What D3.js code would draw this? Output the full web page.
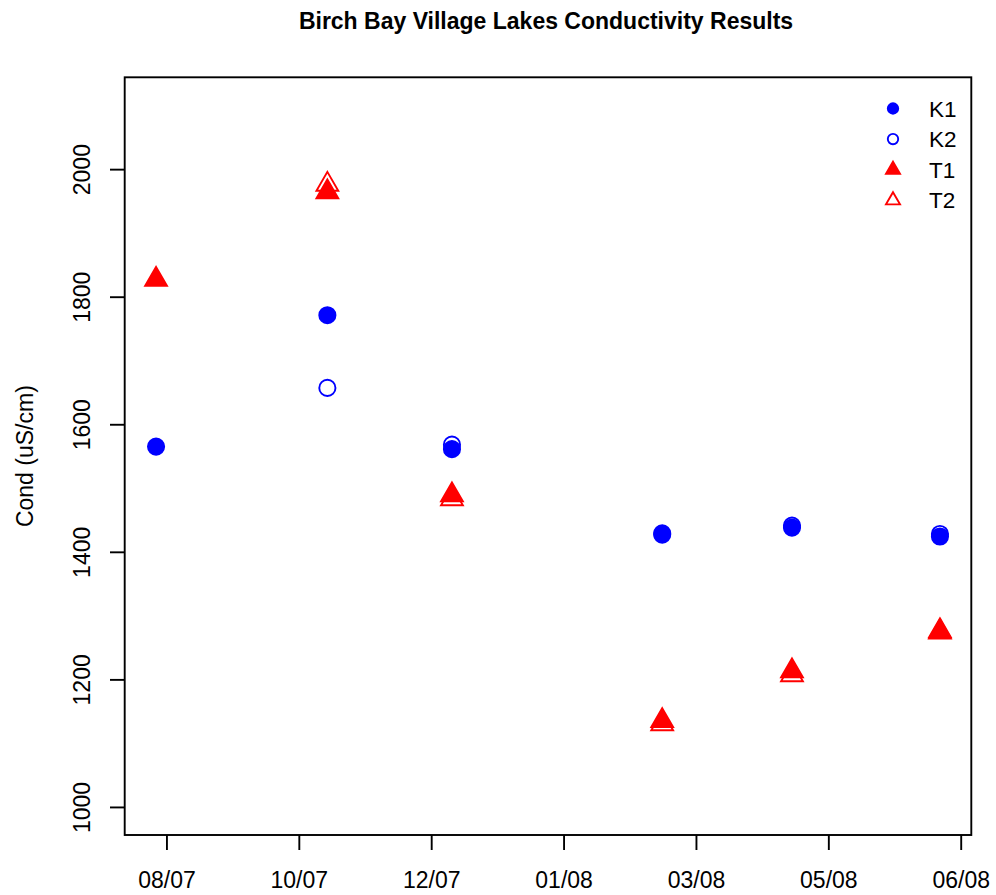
<!DOCTYPE html>
<html><head><meta charset="utf-8">
<script src="https://cdn.jsdelivr.net/npm/d3@7"></script>
<style>body{margin:0;background:#fff}</style>
</head><body>
<svg id="chart" width="996" height="895"></svg>
<script>
// ---- data ----
const sampleDates = ["2007-08-20","2007-10-25","2007-12-12","2008-03-02","2008-04-21","2008-06-17"];
const k1 = [1565, 1771, 1561, 1427, 1438, 1424];
const k2 = [null, 1657, 1568, 1429, 1441, 1428];
const t1 = [1827, 1964, 1489, 1135, 1213, 1276];
const t2 = [null, 1976, 1483, 1130, 1207, 1274];
const seriesNames = ["K1", "K2", "T1", "T2"];
const xTickDates = ["2007-08-24","2007-10-14","2007-12-04","2008-01-24","2008-03-15","2008-05-05","2008-06-25"];
const yTicks = [1000, 1200, 1400, 1600, 1800, 2000];
const yLimits = [1000, 2100];
const titleText = "Birch Bay Village Lakes Conductivity Results";
const yLabelText = "Cond (uS/cm)";

// ---- styles ----
const FONT = "'Liberation Sans', Arial, Helvetica, sans-serif";
const BLUE = "#0000ff", RED = "#ff0000";
const LW = 1.9;
const PLOT_RAD = 8.1, LEGEND_RAD = 5.2;
const styles = [
  {shape: "circle", filled: true, color: BLUE},
  {shape: "circle", filled: false, color: BLUE},
  {shape: "triangle", filled: true, color: RED},
  {shape: "triangle", filled: false, color: RED}
];
const seriesValues = [k1, k2, t1, t2];

const svg = d3.select("#chart");
const L = 124.7, R = 971.3, T = 77.3, B = 835;

const parse = d3.utcParse("%Y-%m-%d");
const dates = sampleDates.map(parse);
const d0 = dates[0], d1 = dates[dates.length - 1];
const ext = (d1 - d0) * 0.04;
const x = d3.scaleUtc().domain([new Date(+d0 - ext), new Date(+d1 + ext)]).range([L, R]);
const yExt = (yLimits[1] - yLimits[0]) * 0.04;
const y = d3.scaleLinear().domain([yLimits[0] - yExt, yLimits[1] + yExt]).range([B, T]);

function triPath(rad) {
  const r = 1.5551 * rad, hw = 1.3468 * rad;
  return `M0,${-r}L${hw},${r/2}L${-hw},${r/2}Z`;
}
function drawMark(g, st, cx, cy, rad) {
  let el;
  if (st.shape === "circle") {
    el = g.append("circle").attr("cx", cx).attr("cy", cy).attr("r", rad);
  } else {
    el = g.append("path").attr("d", triPath(rad)).attr("transform", `translate(${cx},${cy})`);
  }
  el.attr("fill", st.filled ? st.color : "none")
    .attr("stroke", st.color).attr("stroke-width", LW);
}

// marks
const marks = svg.append("g");
seriesValues.forEach((vals, si) => {
  vals.forEach((v, i) => {
    if (v == null) return;
    drawMark(marks, styles[si], x(dates[i]), y(v), PLOT_RAD);
  });
});

// box
svg.append("rect").attr("x", L).attr("y", T).attr("width", R - L).attr("height", B - T)
  .attr("fill", "none").attr("stroke", "#000").attr("stroke-width", LW);

// x axis
const xa = svg.append("g").attr("transform", `translate(0,${B})`)
  .call(d3.axisBottom(x).tickValues(xTickDates.map(parse)).tickFormat(d3.utcFormat("%m/%y")).tickSize(15));
xa.select(".domain").remove();
xa.selectAll("line").attr("stroke", "#000").attr("stroke-width", LW);
xa.selectAll("text").attr("y", 52.7).attr("dy", null)
  .style("font-family", FONT).style("font-size", "23px").attr("fill", "#000");

// y axis
const ya = svg.append("g").attr("transform", `translate(${L},0)`)
  .call(d3.axisLeft(y).tickValues(yTicks).tickFormat(d3.format("d")).tickSize(14.7));
ya.select(".domain").remove();
ya.selectAll("line").attr("stroke", "#000").attr("stroke-width", LW);
ya.selectAll("text").attr("x", null).attr("dy", null)
  .attr("transform", "translate(-34.7,0) rotate(-90)")
  .attr("text-anchor", "middle")
  .style("font-family", FONT).style("font-size", "23px").attr("fill", "#000");

// title
svg.append("text").attr("x", 546).attr("y", 29.3).attr("text-anchor", "middle")
  .style("font-family", FONT).style("font-size", "23px").style("font-weight", "bold")
  .text(titleText);

// y label
svg.append("text").attr("transform", `translate(33,${(T + B) / 2}) rotate(-90)`)
  .attr("text-anchor", "middle")
  .style("font-family", FONT).style("font-size", "23px")
  .text(yLabelText);

// legend
const lg = svg.append("g");
seriesNames.forEach((name, i) => {
  const cy = 108.5 + i * 30.6;
  drawMark(lg, styles[i], 893, cy, LEGEND_RAD);
  lg.append("text").attr("x", 929).attr("y", cy + 8.1)
    .style("font-family", FONT).style("font-size", "22.5px").text(name);
});
</script>
</body></html>
